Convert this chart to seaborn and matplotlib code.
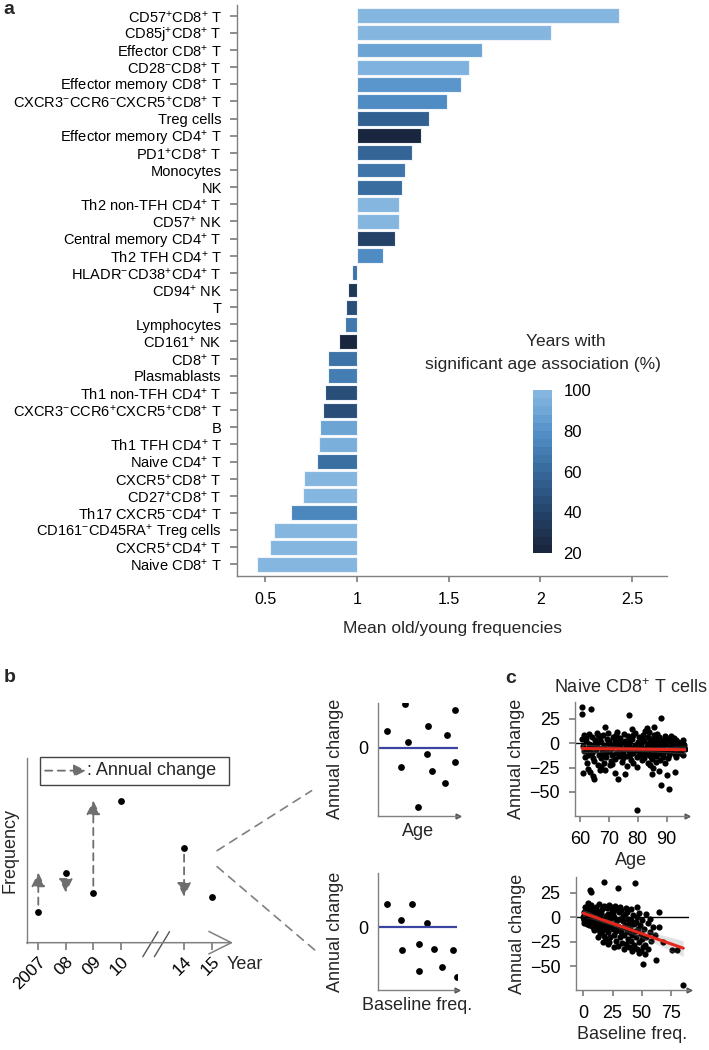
import matplotlib.pyplot as plt
import numpy as np
import pandas as pd
import seaborn as sns
from matplotlib.cm import ScalarMappable
from matplotlib.colors import LinearSegmentedColormap, ListedColormap, Normalize
from matplotlib.patches import ConnectionPatch, Rectangle

sns.set_theme(style="ticks")
plt.rcParams["font.family"] = ["Liberation Sans", "DejaVu Sans"]
plt.rcParams["mathtext.fontset"] = "custom"
plt.rcParams["mathtext.rm"] = "Liberation Sans"
plt.rcParams["mathtext.it"] = "Liberation Sans:italic"
plt.rcParams["mathtext.bf"] = "Liberation Sans:bold"
plt.rcParams["axes.edgecolor"] = "#808080"
plt.rcParams["axes.linewidth"] = 1.0
plt.rcParams["xtick.color"] = "#808080"
plt.rcParams["ytick.color"] = "#808080"
plt.rcParams["xtick.labelcolor"] = "black"
plt.rcParams["ytick.labelcolor"] = "black"

# ---- panel a: old/young frequency ratio per cell type ----
cell_types = [
    "CD57$^{+}$CD8$^{+}$ T", "CD85j$^{+}$CD8$^{+}$ T", "Effector CD8$^{+}$ T",
    "CD28$^{-}$CD8$^{+}$ T", "Effector memory CD8$^{+}$ T",
    "CXCR3$^{-}$CCR6$^{-}$CXCR5$^{+}$CD8$^{+}$ T", "Treg cells",
    "Effector memory CD4$^{+}$ T", "PD1$^{+}$CD8$^{+}$ T", "Monocytes", "NK",
    "Th2 non-TFH CD4$^{+}$ T", "CD57$^{+}$ NK", "Central memory CD4$^{+}$ T",
    "Th2 TFH CD4$^{+}$ T", "HLADR$^{-}$CD38$^{+}$CD4$^{+}$ T", "CD94$^{+}$ NK", "T",
    "Lymphocytes", "CD161$^{+}$ NK", "CD8$^{+}$ T", "Plasmablasts",
    "Th1 non-TFH CD4$^{+}$ T", "CXCR3$^{-}$CCR6$^{+}$CXCR5$^{+}$CD8$^{+}$ T", "B",
    "Th1 TFH CD4$^{+}$ T", "Naive CD4$^{+}$ T", "CXCR5$^{+}$CD8$^{+}$ T",
    "CD27$^{+}$CD8$^{+}$ T", "Th17 CXCR5$^{-}$CD4$^{+}$ T",
    "CD161$^{-}$CD45RA$^{+}$ Treg cells", "CXCR5$^{+}$CD4$^{+}$ T", "Naive CD8$^{+}$ T",
]
old_young_ratio = [
    2.43, 2.06, 1.68, 1.61, 1.565, 1.49, 1.39, 1.35, 1.30, 1.264, 1.247,
    1.229, 1.229, 1.209, 1.144, 0.973, 0.951, 0.94, 0.937, 0.904, 0.844, 0.842,
    0.824, 0.817, 0.798, 0.795, 0.784, 0.713, 0.708, 0.638, 0.549, 0.524, 0.456,
]
pct_years_significant = [
    100, 100, 90, 98, 83, 78, 55, 20, 58, 66, 62,
    100, 100, 38, 78, 65, 30, 45, 68, 20, 65, 70,
    45, 45, 90, 96, 63, 100, 100, 75, 100, 100, 100,
]

# ---- panel b: schematic ----
years = [2007, 2008, 2009, 2010, 2014, 2015]
year_labels = ["2007", "08", "09", "10", "14", "15"]
frequency = [31, 70, 50, 142, 95, 46]
sketch_age = [34, 96, 12, 63, 86, 37, 61, 29, 96, 67, 83, 50]
sketch_change_age = [96, 84, 37, 49, 27, 13, -14, -43, -32, -51, -79, -131]
sketch_baseline = [12, 43, 29, 62, 31, 52, 71, 95, 52, 81, 99]
sketch_change_base = [43, 43, 13, 8, -43, -32, -41, -42, -81, -75, -93]

# ---- panel c: naive CD8+ T cells ----
age_c = [
    60.8, 61.1, 61.4, 61.7, 61.2, 60.9, 60.7, 60.7,
    62.0, 62.3, 62.6, 61.9, 62.4, 62.7,
    63.1, 63.4, 62.9, 63.7, 63.6, 63.3,
    64.0, 64.5, 63.8, 64.2, 64.8, 64.4,
    65.1, 65.4, 64.9, 65.7, 65.3,
    66.0, 66.3, 66.6, 66.2, 65.8, 66.8,
    67.1, 67.5, 66.9, 67.3, 67.7, 67.2,
    68.0, 68.4, 67.8, 68.6, 68.2, 68.7,
    69.1, 69.4, 68.9, 69.6, 69.2,
    70.0, 70.3, 69.8, 70.6, 70.2, 70.5,
    71.1, 71.4, 70.9, 71.6, 71.2,
    72.0, 72.3, 71.8, 72.5, 72.1, 72.1,
    73.1, 73.4, 72.9, 73.6, 73.0, 73.3,
    74.0, 74.4, 73.8, 74.6, 74.2,
    75.1, 75.5, 74.9, 75.3, 75.6, 75.0,
    76.0, 76.4, 75.8, 76.6, 76.2,
    77.1, 77.4, 77.0, 76.9, 77.6, 77.3,
    78.0, 78.3, 77.8, 78.0, 78.5, 78.2,
    79.1, 79.4, 78.9, 79.6, 79.2,
    80.0, 80.3, 79.8, 79.8, 79.8, 80.5,
    81.1, 81.4, 80.9, 81.6, 81.2,
    82.0, 82.3, 81.8, 82.5, 82.2, 82.6,
    83.1, 83.4, 82.9, 83.7, 83.3, 83.8,
    84.0, 84.3, 83.9, 84.6, 84.2, 84.4, 84.7,
    85.1, 85.3, 84.9, 85.6, 85.2, 85.0, 85.4, 85.7,
    86.0, 86.3, 85.8, 86.6, 86.2, 86.4, 86.7,
    87.1, 87.4, 86.9, 87.6, 87.2, 87.5, 87.8,
    87.9, 88.2, 88.4, 88.0, 88.6, 87.9, 88.3,
    89.1, 89.4, 88.9, 89.6, 89.2, 89.5,
    90.0, 90.3, 89.8, 90.6, 90.2,
    91.1, 91.4, 90.9, 91.0, 91.2, 91.6,
    92.0, 92.3, 91.8, 92.9, 92.5,
    93.1, 93.4, 92.9, 93.6, 93.2,
    94.0, 94.3, 93.8, 94.5,
    95.1, 95.4, 94.9, 95.6,
    96.0, 96.3, 95.8,
]
change_vs_age = [
    4, -3, -8, -14, 8, -31, 37, 30,
    2, -6, -12, 5, -20, -26,
    -1, -9, 10, -4, 35, -30,
    6, -15, -2, -10, -37, -34,
    3, -7, -18, 11, -1,
    -4, 8, -12, -22, 0, -27,
    1, -9, 5, -15, -5, -24,
    9, -3, -11, 17, -20, -27,
    -6, 4, -14, 0, -9,
    2, -8, 11, -18, -3, -22,
    -5, 6, -12, -1, -21,
    3, -10, -4, 8, -16, -31,
    -2, -7, 12, -13, -37, 1,
    5, -11, -3, -19, 0,
    -6, 2, -9, 10, -32, -15,
    0, -13, -4, 7, -23,
    -8, 3, 29, -1, -17, -12,
    4, -10, -5, 15, -20, 8,
    -2, -7, 11, -14, -3,
    1, -12, -6, -24, -69, 6,
    -4, 5, -9, -17, -1,
    2, -11, 9, -6, -15, 13,
    -3, 6, -8, -20, 16, -12,
    0, -5, 12, -14, -22, 4, -10,
    -7, 3, -16, 8, -1, -32, -25, 17,
    1, -9, -4, 10, -13, -19, 5,
    -2, 6, -11, -6, -28, 2, -17,
    26, -5, 3, -9, -14, -43, 0,
    -3, 7, -10, -20, 1, -7,
    4, -8, -1, -15, -33,
    -6, 2, -12, -47, -4, 7,
    0, -9, -3, -30, 5,
    -5, 3, -11, -1, -14,
    1, -7, -2, -10,
    -4, 0, -8, -12,
    -2, -6, 3,
]
baseline_c = [
    0.2, 0.5, 1.0, 1.3, 0.8, 2.0, 2.2, 0.0, 1.8, 1.1, 0.4, 2.5,
    3.0, 3.4, 4.0, 4.3, 3.8, 5.0, 4.6, 5.2, 3.2, 4.1, 5.5,
    6.0, 6.4, 7.0, 7.3, 8.0, 8.4, 9.0, 9.3, 6.2, 7.6, 8.2, 9.5, 5.4, 6.3,
    10.0, 10.4, 11.0, 11.3, 12.0, 12.4, 13.0, 13.3, 14.0, 14.4, 10.7, 12.2, 11.6, 13.7,
    15.0, 15.4, 16.0, 16.3, 17.0, 17.3, 18.0, 18.4, 19.0, 19.3, 17.7, 16.6, 18.7, 15.7,
    20.0, 20.4, 21.0, 21.3, 22.0, 22.4, 23.0, 23.3, 24.0, 24.4, 20.7, 22.2, 23.6, 21.7,
    25.0, 25.4, 26.0, 26.3, 27.0, 27.4, 28.0, 28.3, 29.0, 29.3, 29.6, 26.6, 27.7, 28.7,
    30.0, 30.4, 31.0, 31.3, 32.0, 32.4, 33.0, 33.3, 34.0, 34.4, 31.7, 33.7,
    35.0, 35.4, 36.0, 36.3, 37.0, 37.4, 38.0, 38.3, 39.0, 39.3, 36.7, 38.7,
    40.0, 40.4, 41.0, 41.3, 42.0, 42.4, 43.0, 43.3, 44.0, 44.2, 42.7, 40.7,
    45.0, 45.4, 46.0, 46.3, 47.0, 47.4, 48.0, 48.3, 49.0, 49.3, 45.7, 47.7,
    50.0, 50.4, 51.0, 51.3, 52.0, 53.0, 54.0, 55.0, 55.4, 53.4, 52.4,
    57.0, 58.0, 60.0, 61.0, 62.0, 64.5, 65.0, 68.0, 76.0, 80.0, 85.5, 57.4,
]
change_vs_baseline = [
    2, -3, 5, -1, -6, 3, 8, 0, -4, 10, -2, 1,
    -2, 6, -5, 2, 12, -8, 0, 4, -7, 15, -3,
    1, -6, 9, -2, -10, 4, -4, 7, 13, -9, 0, -13, 28, 26,
    2, -7, 10, -3, -12, 5, -6, 14, -1, -16, -11, -20, 6, 0,
    4, -9, -14, 8, -3, -19, 11, -7, -22, 1, 36, -25, -12, -2,
    -5, 9, -15, 3, -10, 13, -20, -1, -8, 6, -27, -25, 10, -3,
    -12, 4, -18, 0, -6, 11, -24, -14, -3, -29, 30, -31, 8, -10,
    -9, 5, -20, -2, -15, 7, -26, -11, -4, -33, 10, 1,
    -18, 3, -8, -27, -13, 5, -22, -2, -30, -15, 9, -6,
    -10, -24, -3, -35, -18, 2, -28, -7, -14, 35, -31, 8,
    -20, -5, -33, 0, -12, -37, -25, -8, -35, -17, 10, 4,
    -22, -3, -48, -30, -12, -28, -20, -6, -33, 3, -38,
    -15, -24, -10, -18, -44, -10, 5, -25, -34, -34, -69, -2,
]

GREY = "#808080"
fig = plt.figure(figsize=(7.09, 10.5), dpi=100)

# ================= panel a =================
cmap = LinearSegmentedColormap.from_list(
    "years", ["#1A263D", "#25456C", "#36699B", "#5290C8", "#84B6E0"])
norm = Normalize(20, 100)

df_a = pd.DataFrame({"cell": cell_types, "ratio": old_young_ratio,
                     "pct": pct_years_significant})
df_a["change"] = df_a["ratio"] - 1
palette = {c: cmap(norm(p)) for c, p in zip(df_a["cell"], df_a["pct"])}

ax_a = fig.add_axes([0.3343, 0.4517, 0.6065, 0.5435])
sns.barplot(data=df_a, x="change", y="cell", hue="cell", palette=palette,
            legend=False, left=1, width=0.87, edgecolor="#eef4fa", linewidth=0.8,
            errorbar=None, saturation=1, ax=ax_a)
ax_a.set_xlim(0.346, 2.69)
ax_a.set_ylim(32.66, -0.62)
ax_a.set_xticks([0.5, 1, 1.5, 2, 2.5])
ax_a.set_xticklabels(["0.5", "1", "1.5", "2", "2.5"])
ax_a.tick_params(axis="y", length=5, pad=6, labelsize=10.5)
ax_a.tick_params(axis="x", length=4, pad=8, labelsize=11.5)
ax_a.set_ylabel("")
ax_a.set_xlabel("Mean old/young frequencies", fontsize=12.5, labelpad=10)
sns.despine(ax=ax_a)

cax = fig.add_axes([0.7513, 0.4733, 0.0276, 0.1552])
sm = ScalarMappable(norm=norm, cmap=ListedColormap(cmap(np.linspace(0, 1, 20))))
cb = fig.colorbar(sm, cax=cax, ticks=[20, 40, 60, 80, 100])
cb.outline.set_visible(False)
cax.tick_params(axis="y", direction="in", length=4, width=1, color="white",
                labelcolor="black", left=True, right=True, labelsize=12, pad=8)
fig.text(566 / 709, 1 - 342 / 1050, "Years with", ha="center", va="center",
         fontsize=12.5)
fig.text(543 / 709, 1 - 365 / 1050, "significant age association (%)",
         ha="center", va="center", fontsize=12.5)

# ================= panel b: schematic =================
ax_b = fig.add_axes([0.0377, 0.1022, 0.291, 0.176])
xpos = [y - 2007 if y <= 2010 else y - 2007 - 1.7 for y in years]
sns.scatterplot(x=xpos, y=frequency, color="black", s=24, linewidth=0, ax=ax_b)
for i in range(len(years) - 1):
    if years[i + 1] - years[i] == 1:
        ax_b.annotate("", xy=(xpos[i], frequency[i + 1]), xytext=(xpos[i], frequency[i]),
                      arrowprops=dict(arrowstyle="-|>,head_length=0.7,head_width=0.35",
                                      linestyle=(0, (4, 3)), color="#6e6e6e", lw=1.3,
                                      shrinkA=5, shrinkB=0, mutation_scale=12))
ax_b.set_xlim(-0.42, 7.08)
ax_b.set_ylim(0, 184.7)
ax_b.set_xticks(xpos)
ax_b.set_xticklabels(year_labels)
plt.setp(ax_b.get_xticklabels(), rotation=45, ha="right", rotation_mode="anchor")
ax_b.tick_params(axis="x", length=5, pad=3, labelsize=12.5)
ax_b.set_yticks([])
ax_b.set_ylabel("Frequency", fontsize=13, labelpad=6)
sns.despine(ax=ax_b)
ax_b.spines["bottom"].set_visible(False)
ax_b.annotate("", xy=(1, 0), xytext=(0, 0), xycoords="axes fraction",
              arrowprops=dict(arrowstyle="->,head_length=0.9,head_width=0.45",
                              color=GREY, lw=1.1, shrinkA=0, shrinkB=0,
                              mutation_scale=18))
for x0 in (3.8, 4.22):
    ax_b.plot([x0, x0 + 0.55], [-14, 11], color="#555555", lw=1, clip_on=False)
ax_b.text(0.971, -0.12, "Year", transform=ax_b.transAxes, ha="left", va="center",
          fontsize=13)
ax_b.add_patch(Rectangle((0.064, 0.854), 0.918, 0.153, transform=ax_b.transAxes,
                         fill=False, edgecolor="#444444", lw=1, clip_on=False))
ax_b.annotate("", xy=(0.287, 0.931), xytext=(0.089, 0.931), xycoords="axes fraction",
              arrowprops=dict(arrowstyle="-|>,head_length=0.6,head_width=0.3",
                              linestyle=(0, (4, 3)), color="#6e6e6e", lw=1.3,
                              shrinkA=0, shrinkB=0, mutation_scale=12))
ax_b.text(0.29, 0.931, ": Annual change", transform=ax_b.transAxes, ha="left",
          va="center", fontsize=13)


def small_axes(ax):
    sns.despine(ax=ax)
    ax.plot([1], [0], marker=">", ms=3.5, color="#555555", transform=ax.transAxes,
            clip_on=False)


ax_s1 = fig.add_axes([0.5327, 0.2229, 0.1137, 0.1079])
sns.scatterplot(x=sketch_age, y=sketch_change_age, color="black", s=24, linewidth=0,
                ax=ax_s1)
ax_s1.axhline(0, color="#3B44A0", lw=1.6)
ax_s1.set_xlim(0, 100)
ax_s1.set_ylim(-152, 100)
ax_s1.set_xticks([])
ax_s1.set_yticks([0])
ax_s1.tick_params(axis="y", length=0, pad=7, labelsize=13)
ax_s1.set_xlabel("Age", fontsize=13, labelpad=5)
ax_s1.set_ylabel("Annual change", fontsize=13, labelpad=10)
small_axes(ax_s1)

ax_s2 = fig.add_axes([0.5327, 0.0571, 0.1123, 0.1111])
sns.scatterplot(x=sketch_baseline, y=sketch_change_base, color="black", s=24,
                linewidth=0, ax=ax_s2)
ax_s2.axhline(0, color="#3B44A0", lw=1.6)
ax_s2.set_xlim(0, 100)
ax_s2.set_ylim(-117, 100)
ax_s2.set_xticks([])
ax_s2.set_yticks([0])
ax_s2.tick_params(axis="y", length=0, pad=7, labelsize=13)
ax_s2.set_xlabel("Baseline freq.", fontsize=13, labelpad=5)
ax_s2.set_ylabel("Annual change", fontsize=13, labelpad=10)
small_axes(ax_s2)

for y_end, ax_t, xy_t in ((92, ax_s1, (-0.82, 0.223)), (76, ax_s2, (-0.79, 0.343))):
    fig.add_artist(ConnectionPatch(xyA=(6.5, y_end), coordsA=ax_b.transData,
                                   xyB=xy_t, coordsB=ax_t.transAxes,
                                   linestyle=(0, (5, 4)), color=GREY, lw=1.2))

# ================= panel c =================
def naive_panel(ax, x, y, xlim, ylim, xticks, xlabel):
    sns.scatterplot(x=x, y=y, color="black", s=20, linewidth=0, ax=ax)
    ax.axhline(0, color="black", lw=1)
    sns.regplot(x=x, y=y, scatter=False, color="0.25", seed=0, ax=ax,
                line_kws={"lw": 0})
    sns.regplot(x=x, y=y, scatter=False, ci=None, color="#E5281E", ax=ax,
                line_kws={"lw": 2.2})
    ax.set_xlim(*xlim)
    ax.set_ylim(*ylim)
    ax.set_xticks(xticks)
    ax.set_yticks([-50, -25, 0, 25])
    ax.tick_params(length=4, pad=7, labelsize=13)
    ax.set_xlabel(xlabel, fontsize=13, labelpad=3)
    ax.set_ylabel("Annual change", fontsize=13, labelpad=3)
    small_axes(ax)


ax_c1 = fig.add_axes([0.811, 0.2229, 0.1584, 0.1089])
naive_panel(ax_c1, age_c, change_vs_age, (58.2, 97.2), (-74.7, 42.8),
            [60, 70, 80, 90], "Age")
ax_c1.set_title("Naive CD8$^{+}$ T cells", fontsize=13, pad=6)

ax_c2 = fig.add_axes([0.812, 0.0571, 0.1598, 0.1073])
naive_panel(ax_c2, baseline_c, change_vs_baseline, (-6.5, 90.4), (-74.6, 40.8),
            [0, 25, 50, 75], "Baseline freq.")

# panel letters
fig.text(0.005, 0.9905, "a", fontweight="bold", fontsize=14, va="center")
fig.text(0.005, 0.355, "b", fontweight="bold", fontsize=14, va="center")
fig.text(0.712, 0.354, "c", fontweight="bold", fontsize=14, va="center")

fig.savefig("out.png", dpi=100)
